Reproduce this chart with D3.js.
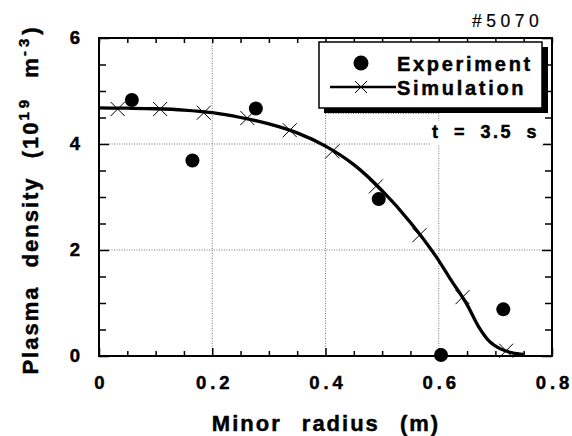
<!DOCTYPE html>
<html><head><meta charset="utf-8">
<script src="https://cdn.jsdelivr.net/npm/d3@7"></script>
<style>
html,body{margin:0;padding:0;background:#fff;}
svg{display:block;font-family:"Liberation Sans",Arial,Helvetica,sans-serif;}
</style></head><body>
<svg id="chart" width="572" height="436"></svg>
<script>
// ---- data ----
const expRadius  = [0.058, 0.165, 0.277, 0.494, 0.604, 0.714];
const expDensity = [4.83, 3.69, 4.67, 2.96, 0.02, 0.88];
const simMarkRadius  = [0.033, 0.108, 0.185, 0.262, 0.337, 0.412, 0.489, 0.566, 0.642, 0.719];
const simMarkDensity = [4.66, 4.66, 4.59, 4.49, 4.26, 3.86, 3.20, 2.28, 1.11, 0.10];
const simCurveRadius  = [0, 0.05, 0.1, 0.15, 0.2, 0.25, 0.3, 0.35, 0.4, 0.45, 0.5, 0.55, 0.6, 0.62, 0.65, 0.67, 0.69, 0.71, 0.73, 0.75];
const simCurveDensity = [4.68, 4.675, 4.665, 4.64, 4.59, 4.50, 4.38, 4.21, 3.96, 3.61, 3.12, 2.52, 1.80, 1.46, 0.97, 0.56, 0.27, 0.13, 0.06, 0.03];
const xTicks = [0, 0.2, 0.4, 0.6, 0.8];
const xTickLabels = ["0", "0.2", "0.4", "0.6", "0.8"];
const yTicks = [0, 2, 4, 6];
const yTickLabels = ["0", "2", "4", "6"];
const xGrid = [0.2, 0.4, 0.6];
const yGrid = [2, 4];
const legendLabels = ["Experiment", "Simulation"];

const svg = d3.select("#chart");
const L = 99, R = 552, T = 38, B = 356;
const x = d3.scaleLinear().domain([0, 0.8]).range([L, R]);
const y = d3.scaleLinear().domain([0, 6]).range([B, T]);

const xMinor = d3.range(0, 0.8001, 0.05).filter(v => Math.abs(v / 0.2 - Math.round(v / 0.2)) > 1e-6);
const yMinor = d3.range(0, 6.001, 0.5).filter(v => Math.abs(v / 2 - Math.round(v / 2)) > 1e-6);

const bold = s => s.attr("font-weight", "bold").attr("fill", "#000").attr("stroke", "#000").attr("stroke-width", 0.45);

// gridlines
const grid = svg.append("g").attr("stroke", "#777").attr("stroke-width", 1).attr("stroke-dasharray", "1,1.5");
grid.selectAll("line.gx").data(xGrid).join("line").attr("class", "gx")
  .attr("x1", d => x(d)).attr("x2", d => x(d)).attr("y1", T).attr("y2", B);
grid.selectAll("line.gy").data(yGrid).join("line").attr("class", "gy")
  .attr("x1", L).attr("x2", R).attr("y1", d => y(d)).attr("y2", d => y(d));

// axes (inward ticks)
function styleAxis(g) {
  g.select(".domain").remove();
  g.selectAll(".tick line").attr("stroke", "#000").attr("stroke-width", 1.5);
}
const fmtX = (d) => xTickLabels[xTicks.indexOf(d)];
const fmtY = (d) => yTickLabels[yTicks.indexOf(d)];

svg.append("g").attr("transform", `translate(0,${B})`)
  .call(d3.axisBottom(x).tickValues(xMinor).tickSize(-5).tickFormat(""))
  .call(styleAxis);
const xAx = svg.append("g").attr("transform", `translate(0,${B})`)
  .call(d3.axisBottom(x).tickValues(xTicks).tickSize(-8).tickPadding(20).tickFormat(fmtX))
  .call(styleAxis);
xAx.selectAll("text").attr("font-size", 18.5).attr("letter-spacing", 4).attr("dx", 2).call(bold);

svg.append("g").attr("transform", `translate(0,${T})`)
  .call(d3.axisTop(x).tickValues(xMinor.concat(xTicks)).tickSize(-5).tickFormat(""))
  .call(styleAxis);

svg.append("g").attr("transform", `translate(${L},0)`)
  .call(d3.axisLeft(y).tickValues(yMinor).tickSize(-7).tickFormat(""))
  .call(styleAxis);
const yAx = svg.append("g").attr("transform", `translate(${L},0)`)
  .call(d3.axisLeft(y).tickValues(yTicks).tickSize(-10).tickPadding(19).tickFormat(fmtY))
  .call(styleAxis);
yAx.selectAll("text").attr("font-size", 18.5).call(bold);

svg.append("g").attr("transform", `translate(${R},0)`)
  .call(d3.axisRight(y).tickValues(yMinor).tickSize(-7).tickFormat(""))
  .call(styleAxis);
svg.append("g").attr("transform", `translate(${R},0)`)
  .call(d3.axisRight(y).tickValues(yTicks).tickSize(-10).tickFormat(""))
  .call(styleAxis);

// frame
svg.append("rect").attr("x", L).attr("y", T).attr("width", R - L).attr("height", B - T)
  .attr("fill", "none").attr("stroke", "#000").attr("stroke-width", 2);

// simulation curve
const line = d3.line().x(d => x(d[0])).y(d => y(d[1])).curve(d3.curveMonotoneX);
svg.append("path").datum(d3.zip(simCurveRadius, simCurveDensity))
  .attr("d", line).attr("fill", "none").attr("stroke", "#000").attr("stroke-width", 3.3)
  .attr("stroke-linejoin", "round");

// simulation markers (x)
const xm = 7;
function cross(g) {
  g.append("path").attr("d", `M${-xm},${-xm}L${xm},${xm}M${-xm},${xm}L${xm},${-xm}`)
    .attr("stroke", "#000").attr("stroke-width", 1).attr("fill", "none");
}
svg.append("g").selectAll("g").data(d3.zip(simMarkRadius, simMarkDensity)).join("g")
  .attr("transform", d => `translate(${x(d[0])},${y(d[1])})`).each(function () { cross(d3.select(this)); });

// experiment points
svg.append("g").selectAll("circle").data(d3.zip(expRadius, expDensity)).join("circle")
  .attr("cx", d => x(d[0])).attr("cy", d => y(d[1])).attr("r", 7).attr("fill", "#000");

// legend box with shadow
const lg = svg.append("g");
lg.append("rect").attr("x", 324).attr("y", 47).attr("width", 224).attr("height", 66).attr("fill", "#000");
lg.append("rect").attr("x", 319).attr("y", 42).attr("width", 223).attr("height", 66)
  .attr("fill", "#fff").attr("stroke", "#000").attr("stroke-width", 1.5);
lg.append("circle").attr("cx", 361).attr("cy", 63).attr("r", 7.5).attr("fill", "#000");
lg.append("line").attr("x1", 330).attr("x2", 396).attr("y1", 87).attr("y2", 87)
  .attr("stroke", "#000").attr("stroke-width", 2.5);
const lgx = lg.append("g").attr("transform", "translate(361,87)");
lgx.append("path").attr("d", "M-6,-6L6,6M-6,6L6,-6").attr("stroke", "#000").attr("stroke-width", 1);
lg.selectAll("text").data(legendLabels).join("text")
  .attr("x", 397).attr("y", (d, i) => 71 + i * 24)
  .attr("font-size", 20).attr("letter-spacing", 2.7)
  .call(bold).text(d => d);

// dotted artifact under legend
svg.append("line").attr("x1", x(0.4)).attr("x2", x(0.6)).attr("y1", 113.5).attr("y2", 113.5)
  .attr("stroke", "#777").attr("stroke-dasharray", "1,1.5");

// time label
svg.append("rect").attr("x", 431).attr("y", 121).attr("width", 112).attr("height", 24).attr("fill", "#fff");
svg.append("text").attr("x", 432).attr("y", 138).attr("font-size", 18)
  .attr("letter-spacing", 2.5).attr("word-spacing", 6).call(bold).text("t = 3.5 s");

// shot number
svg.append("text").attr("x", 472).attr("y", 27).attr("font-size", 17.5)
  .attr("letter-spacing", 4.5).attr("stroke", "#000").attr("stroke-width", 0.2).text("#5070");

// x axis title
svg.append("text").attr("x", 326).attr("y", 431).attr("text-anchor", "middle")
  .attr("font-size", 22).attr("letter-spacing", 2).attr("word-spacing", 12)
  .call(bold).text("Minor radius (m)");

// y axis title
const yt = svg.append("text").attr("transform", "translate(38,200) rotate(-90)")
  .attr("text-anchor", "middle").attr("font-size", 22)
  .attr("letter-spacing", 2).attr("word-spacing", 10).call(bold);
yt.append("tspan").text("Plasma density (10");
yt.append("tspan").attr("dy", -9).attr("font-size", 15).attr("letter-spacing", 4).text("19");
yt.append("tspan").attr("dy", 9).text(" m");
yt.append("tspan").attr("dy", -9).attr("font-size", 15).attr("letter-spacing", 4).text("-3");
yt.append("tspan").attr("dy", 9).text(")");
</script>
</body></html>
